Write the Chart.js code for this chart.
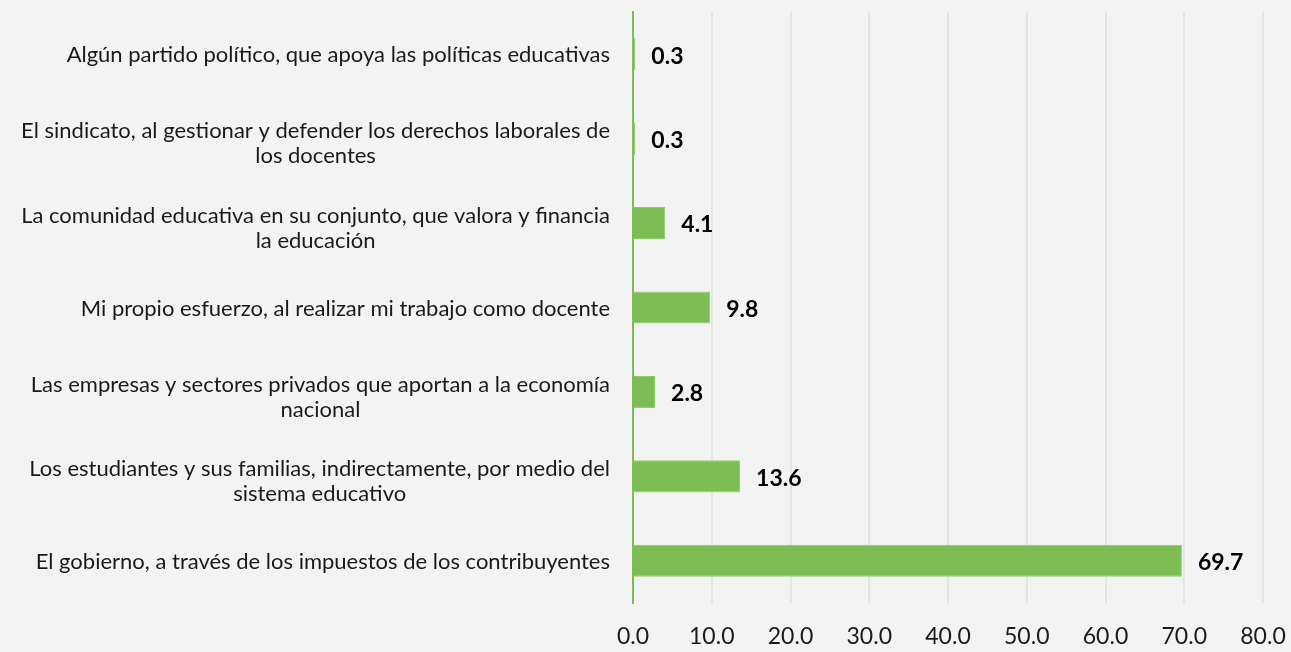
<!DOCTYPE html>
<html>
<head>
<meta charset="utf-8">
<script src="https://cdn.jsdelivr.net/npm/chart.js@4/dist/chart.umd.min.js"></script>
<style>
  html, body { margin: 0; padding: 0; background: #f3f3f3; }
  #wrap { width: 1291px; height: 652px; }
</style>
</head>
<body>
<div id="wrap"><canvas id="myChart" width="1291" height="652"></canvas></div>
<script>
// categories, top to bottom
const categories = [
    ['Algún partido político, que apoya las políticas educativas'],
    ['El sindicato, al gestionar y defender los derechos laborales de', 'los docentes'],
    ['La comunidad educativa en su conjunto, que valora y financia', 'la educación'],
    ['Mi propio esfuerzo, al realizar mi trabajo como docente'],
    ['Las empresas y sectores privados que aportan a la economía', 'nacional'],
    ['Los estudiantes y sus familias, indirectamente, por medio del', 'sistema educativo'],
    ['El gobierno, a través de los impuestos de los contribuyentes']
];
const values = [0.3, 0.3, 4.1, 9.8, 2.8, 13.6, 69.7];
const tickValues = [0, 10, 20, 30, 40, 50, 60, 70, 80];

const FONT = 'Lato, "Open Sans", sans-serif';

// y labels: block right-aligned, lines centred within block
const catLabels = {
    id: 'catLabels',
    afterDraw(chart) {
        const ctx = chart.ctx;
        const y = chart.scales.y;
        ctx.save();
        ctx.font = '22px ' + FONT;
        ctx.fillStyle = '#1a1a1a';
        ctx.textAlign = 'center';
        ctx.textBaseline = 'middle';
        const right = 610, lh = 25;
        categories.forEach(function (lines, i) {
            const py = y.getPixelForTick(i);
            let w = 0;
            lines.forEach(function (l) { w = Math.max(w, ctx.measureText(l).width); });
            const cx = right - w / 2;
            const y0 = py - (lines.length - 1) * lh / 2 + (lines.length > 1 ? 5 : 1);
            lines.forEach(function (l, k) { ctx.fillText(l, cx, y0 + k * lh); });
        });
        ctx.restore();
    }
};

const valueLabels = {
    id: 'valueLabels',
    afterDatasetsDraw(chart) {
        const ctx = chart.ctx;
        const meta = chart.getDatasetMeta(0);
        ctx.save();
        ctx.font = 'bold 23px ' + FONT;
        ctx.fillStyle = '#000';
        ctx.textAlign = 'left';
        ctx.textBaseline = 'middle';
        meta.data.forEach(function (bar, i) {
            ctx.fillText(values[i].toFixed(1), bar.x + 16, bar.y + 2);
        });
        ctx.restore();
    }
};

var ctx = document.getElementById('myChart').getContext('2d');
var myChart = new Chart(ctx, {
    type: 'bar',
    data: {
        labels: categories.map(function (c) { return c.join(' '); }),
        datasets: [{
            data: values,
            backgroundColor: '#7cbd54',
            borderColor: '#8fcb6a',
            borderWidth: 1,
            barPercentage: 0.38,
            categoryPercentage: 1
        }]
    },
    options: {
        indexAxis: 'y',
        responsive: false,
        animation: false,
        layout: { padding: { top: 12, right: 28, left: 0, bottom: 0 } },
        plugins: { legend: { display: false }, tooltip: { enabled: false } },
        scales: {
            x: {
                min: 0,
                max: 80,
                afterBuildTicks: function (axis) {
                    axis.ticks = tickValues.map(function (v) { return { value: v }; });
                },
                afterFit: function (axis) {
                    axis.height = 49;
                    axis.paddingLeft = 0;
                    axis.paddingRight = 0;
                },
                grid: { color: '#e2e6de', lineWidth: 2, drawTicks: false },
                border: { display: false },
                ticks: {
                    padding: 20,
                    color: '#1a1a1a',
                    font: { family: FONT, size: 23 },
                    callback: function (v) { return Number(v).toFixed(1); }
                }
            },
            y: {
                afterFit: function (axis) { axis.width = 633; },
                grid: { display: false },
                border: { color: '#7cbd54', width: 2 },
                ticks: { display: false }
            }
        }
    },
    plugins: [catLabels, valueLabels]
});
</script>
</body>
</html>
